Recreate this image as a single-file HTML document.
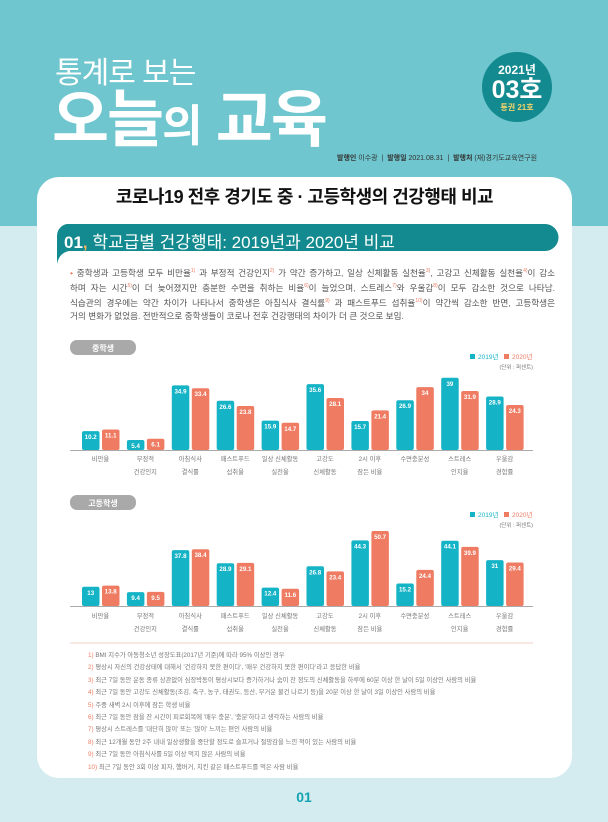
<!DOCTYPE html>
<html><head><meta charset="utf-8"><style>
*{margin:0;padding:0;box-sizing:border-box}
body{width:608px;height:822px;overflow:hidden;background:#d4ecef;font-family:"Liberation Sans","Noto Sans CJK KR",sans-serif;position:relative}
.top{position:absolute;left:0;top:0;width:608px;height:226px;background:#6fc6ce}
.abs{position:absolute}
.card{position:absolute;left:37px;top:177px;width:535px;height:601px;background:#fff;border-radius:22px}
.fn{position:absolute;left:88px;font-size:6.3px;color:#777;white-space:nowrap;line-height:8px}
.fn b{color:#ee7b62;font-weight:normal}
sup{color:#ee7b62;font-size:5px}
.t{fill:#14b3c6}.c{fill:#ee7b62}
.v{font-size:6.2px;font-weight:bold;fill:#fff;text-anchor:middle}
.l{font-size:6.3px;fill:#777;text-anchor:middle}
.p div{white-space:nowrap;text-align:justify;text-align-last:justify;height:15px}
</style></head><body>
<div class="top"></div>
<div class="abs" style="left:55px;top:48px;font-size:30px;color:#fff;letter-spacing:-1px">통계로 보는</div>
<div class="abs" style="left:52px;top:86px;font-size:62px;font-weight:bold;color:#fff;letter-spacing:-2px;line-height:70px;white-space:nowrap">오늘<span style="font-size:44px">의</span> 교육</div>
<div class="abs" style="left:482px;top:52px;width:70px;height:70px;border-radius:50%;background:#138a8f;text-align:center;color:#fff">
 <div style="font-size:12px;font-weight:bold;margin-top:9px">2021년</div>
 <div style="font-size:25px;font-weight:bold;line-height:24px">03호</div>
 <div style="font-size:8px;font-weight:bold;color:#f3d36a">통권 21호</div>
</div>
<div class="abs" style="left:337px;top:153px;font-size:7px;color:#333;white-space:nowrap"><b>발행인</b> 이수광 &nbsp;|&nbsp; <b>발행일</b> 2021.08.31 &nbsp;|&nbsp; <b>발행처</b> (재)경기도교육연구원</div>
<div class="card"></div>
<div class="abs" style="left:37px;top:183px;width:535px;text-align:center;font-size:18px;font-weight:bold;color:#111;letter-spacing:-0.5px">코로나19 전후 경기도 중 · 고등학생의 건강행태 비교</div>
<svg class="abs" style="left:55px;top:224px" width="505" height="42"><path d="M12 0H490a13 13 0 0 1 0 27H14Q4 29 2 40V12A12 12 0 0 1 12 0Z" fill="#138a8f"/></svg>
<div class="abs" style="left:64px;top:228px;font-size:17px;color:#fff;white-space:nowrap"><b>01<span style="color:#f3b35a">,</span></b> 학교급별 건강행태: 2019년과 2020년 비교</div>
<div class="abs p" style="left:70px;top:264px;width:485px;font-size:8.6px;line-height:15px;color:#555">
<div><span style="color:#ee7b62">•</span> 중학생과 고등학생 모두 비만율<sup>1)</sup> 과 부정적 건강인지<sup>2)</sup> 가 약간 증가하고, 일상 신체활동 실천율<sup>3)</sup>, 고강고 신체활동 실천율<sup>4)</sup>이 감소</div>
<div>하며 자는 시간<sup>5)</sup>이 더 늦어졌지만 충분한 수면을 취하는 비율<sup>6)</sup>이 늘었으며, 스트레스<sup>7)</sup>와 우울감<sup>8)</sup>이 모두 감소한 것으로 나타남.</div>
<div>식습관의 경우에는 약간 차이가 나타나서 중학생은 아침식사 결식률<sup>9)</sup> 과 패스트푸드 섭취율<sup>10)</sup>이 약간씩 감소한 반면, 고등학생은</div>
<div style="text-align-last:left">거의 변화가 없었음. 전반적으로 중학생들이 코로나 전후 건강행태의 차이가 더 큰 것으로 보임.</div>
</div>
<svg class="abs" style="left:0;top:0" width="608" height="822" font-family="Liberation Sans, Noto Sans CJK KR, sans-serif">
<rect x="70" y="340" width="66" height="15" rx="7" fill="#a9a9a9"/><text x="103" y="351" font-size="8" fill="#fff" text-anchor="middle" font-weight="bold">중학생</text>
<rect x="70" y="495" width="66" height="15" rx="7" fill="#a9a9a9"/><text x="103" y="506" font-size="8" fill="#fff" text-anchor="middle" font-weight="bold">고등학생</text>
<g font-size="6.5">
<rect x="470" y="354" width="5" height="5" fill="#14b3c6"/><text x="478" y="359" fill="#14b3c6">2019년</text>
<rect x="504" y="354" width="5" height="5" fill="#ee7b62"/><text x="512" y="359" fill="#ee7b62">2020년</text>
<text x="533" y="369" fill="#777" text-anchor="end" font-size="5.5">(단위 : 퍼센트)</text>
<rect x="470" y="512" width="5" height="5" fill="#14b3c6"/><text x="478" y="517" fill="#14b3c6">2019년</text>
<rect x="504" y="512" width="5" height="5" fill="#ee7b62"/><text x="512" y="517" fill="#ee7b62">2020년</text>
<text x="533" y="527" fill="#777" text-anchor="end" font-size="5.5">(단위 : 퍼센트)</text>
</g>
<g>
<rect class="t" x="82" y="431.1" width="17.5" height="18.9" rx="2"/><rect class="c" x="102" y="429.5" width="17.5" height="20.5" rx="2"/>
<rect class="t" x="126.9" y="440" width="17.5" height="10" rx="2"/><rect class="c" x="146.9" y="438.7" width="17.5" height="11.3" rx="2"/>
<rect class="t" x="171.8" y="385.4" width="17.5" height="64.6" rx="2"/><rect class="c" x="191.8" y="388.2" width="17.5" height="61.8" rx="2"/>
<rect class="t" x="216.7" y="400.8" width="17.5" height="49.2" rx="2"/><rect class="c" x="236.7" y="406" width="17.5" height="44" rx="2"/>
<rect class="t" x="261.6" y="420.6" width="17.5" height="29.4" rx="2"/><rect class="c" x="281.6" y="422.8" width="17.5" height="27.2" rx="2"/>
<rect class="t" x="306.5" y="384.1" width="17.5" height="65.9" rx="2"/><rect class="c" x="326.5" y="398" width="17.5" height="52" rx="2"/>
<rect class="t" x="351.4" y="421" width="17.5" height="29" rx="2"/><rect class="c" x="371.4" y="410.4" width="17.5" height="39.6" rx="2"/>
<rect class="t" x="396.3" y="400.2" width="17.5" height="49.8" rx="2"/><rect class="c" x="416.3" y="387.1" width="17.5" height="62.9" rx="2"/>
<rect class="t" x="441.2" y="377.8" width="17.5" height="72.2" rx="2"/><rect class="c" x="461.2" y="391" width="17.5" height="59" rx="2"/>
<rect class="t" x="486.1" y="396.5" width="17.5" height="53.5" rx="2"/><rect class="c" x="506.1" y="405" width="17.5" height="45" rx="2"/>
<text class="v" x="90.7" y="439.1">10.2</text><text class="v" x="110.7" y="437.5">11.1</text>
<text class="v" x="135.6" y="448">5.4</text><text class="v" x="155.6" y="446.7">6.1</text>
<text class="v" x="180.5" y="393.4">34.9</text><text class="v" x="200.5" y="396.2">33.4</text>
<text class="v" x="225.4" y="408.8">26.6</text><text class="v" x="245.4" y="414">23.8</text>
<text class="v" x="270.3" y="428.6">15.9</text><text class="v" x="290.3" y="430.8">14.7</text>
<text class="v" x="315.2" y="392.1">35.6</text><text class="v" x="335.2" y="406">28.1</text>
<text class="v" x="360.1" y="429">15.7</text><text class="v" x="380.1" y="418.4">21.4</text>
<text class="v" x="405" y="408.2">26.9</text><text class="v" x="425" y="395.1">34</text>
<text class="v" x="449.9" y="385.8">39</text><text class="v" x="469.9" y="399">31.9</text>
<text class="v" x="494.8" y="404.5">28.9</text><text class="v" x="514.8" y="413">24.3</text>
</g>
<line x1="70" y1="450.5" x2="533" y2="450.5" stroke="#aaa"/>
<g>
<text class="l" x="100.5" y="461">비만율</text>
<text class="l" x="145.4" y="461">부정적</text><text class="l" x="145.4" y="474">건강인지</text>
<text class="l" x="190.3" y="461">아침식사</text><text class="l" x="190.3" y="474">결식률</text>
<text class="l" x="235.2" y="461">패스트푸드</text><text class="l" x="235.2" y="474">섭취율</text>
<text class="l" x="280.1" y="461">일상 신체활동</text><text class="l" x="280.1" y="474">실천율</text>
<text class="l" x="325" y="461">고강도</text><text class="l" x="325" y="474">신체활동</text>
<text class="l" x="369.9" y="461">2시 이후</text><text class="l" x="369.9" y="474">잠든 비율</text>
<text class="l" x="414.8" y="461">수면충분성</text>
<text class="l" x="459.7" y="461">스트레스</text><text class="l" x="459.7" y="474">인지율</text>
<text class="l" x="504.6" y="461">우울감</text><text class="l" x="504.6" y="474">경험률</text>
</g>
<g>
<rect class="t" x="82" y="586.8" width="17.5" height="19.2" rx="2"/><rect class="c" x="102" y="585.6" width="17.5" height="20.4" rx="2"/>
<rect class="t" x="126.9" y="592.1" width="17.5" height="13.9" rx="2"/><rect class="c" x="146.9" y="591.9" width="17.5" height="14.1" rx="2"/>
<rect class="t" x="171.8" y="550.1" width="17.5" height="55.9" rx="2"/><rect class="c" x="191.8" y="549.2" width="17.5" height="56.8" rx="2"/>
<rect class="t" x="216.7" y="563.2" width="17.5" height="42.8" rx="2"/><rect class="c" x="236.7" y="562.9" width="17.5" height="43.1" rx="2"/>
<rect class="t" x="261.6" y="587.6" width="17.5" height="18.4" rx="2"/><rect class="c" x="281.6" y="588.8" width="17.5" height="17.2" rx="2"/>
<rect class="t" x="306.5" y="566.3" width="17.5" height="39.7" rx="2"/><rect class="c" x="326.5" y="571.4" width="17.5" height="34.6" rx="2"/>
<rect class="t" x="351.4" y="540.4" width="17.5" height="65.6" rx="2"/><rect class="c" x="371.4" y="531" width="17.5" height="75" rx="2"/>
<rect class="t" x="396.3" y="583.5" width="17.5" height="22.5" rx="2"/><rect class="c" x="416.3" y="569.9" width="17.5" height="36.1" rx="2"/>
<rect class="t" x="441.2" y="540.7" width="17.5" height="65.3" rx="2"/><rect class="c" x="461.2" y="546.9" width="17.5" height="59.1" rx="2"/>
<rect class="t" x="486.1" y="560.1" width="17.5" height="45.9" rx="2"/><rect class="c" x="506.1" y="562.5" width="17.5" height="43.5" rx="2"/>
<text class="v" x="90.7" y="594.8">13</text><text class="v" x="110.7" y="593.6">13.8</text>
<text class="v" x="135.6" y="600.1">9.4</text><text class="v" x="155.6" y="599.9">9.5</text>
<text class="v" x="180.5" y="558.1">37.8</text><text class="v" x="200.5" y="557.2">38.4</text>
<text class="v" x="225.4" y="571.2">28.9</text><text class="v" x="245.4" y="570.9">29.1</text>
<text class="v" x="270.3" y="595.6">12.4</text><text class="v" x="290.3" y="596.8">11.6</text>
<text class="v" x="315.2" y="574.3">26.8</text><text class="v" x="335.2" y="579.4">23.4</text>
<text class="v" x="360.1" y="548.4">44.3</text><text class="v" x="380.1" y="539">50.7</text>
<text class="v" x="405" y="591.5">15.2</text><text class="v" x="425" y="577.9">24.4</text>
<text class="v" x="449.9" y="548.7">44.1</text><text class="v" x="469.9" y="554.9">39.9</text>
<text class="v" x="494.8" y="568.1">31</text><text class="v" x="514.8" y="570.5">29.4</text>
</g>
<line x1="70" y1="606.5" x2="533" y2="606.5" stroke="#aaa"/>
<g>
<text class="l" x="100.5" y="618">비만율</text>
<text class="l" x="145.4" y="618">부정적</text><text class="l" x="145.4" y="631">건강인지</text>
<text class="l" x="190.3" y="618">아침식사</text><text class="l" x="190.3" y="631">결식률</text>
<text class="l" x="235.2" y="618">패스트푸드</text><text class="l" x="235.2" y="631">섭취율</text>
<text class="l" x="280.1" y="618">일상 신체활동</text><text class="l" x="280.1" y="631">실천율</text>
<text class="l" x="325" y="618">고강도</text><text class="l" x="325" y="631">신체활동</text>
<text class="l" x="369.9" y="618">2시 이후</text><text class="l" x="369.9" y="631">잠든 비율</text>
<text class="l" x="414.8" y="618">수면충분성</text>
<text class="l" x="459.7" y="618">스트레스</text><text class="l" x="459.7" y="631">인지율</text>
<text class="l" x="504.6" y="618">우울감</text><text class="l" x="504.6" y="631">경험률</text>
</g>
<line x1="70" y1="643" x2="533" y2="643" stroke="#efd0c8"/>
</svg>
<div class="fn" style="top:652px"><b>1)</b> BMI 지수가 아동청소년 성장도표(2017년 기준)에 따라 95% 이상인 경우</div>
<div class="fn" style="top:664.4px"><b>2)</b> 평상시 자신의 건강상태에 대해서 '건강하지 못한 편이다', '매우 건강하지 못한 편이다'라고 응답한 비율</div>
<div class="fn" style="top:676.8px"><b>3)</b> 최근 7일 동안 운동 종류 상관없이 심장박동이 평상시보다 증가하거나 숨이 찬 정도의 신체활동을 하루에 60분 이상 한 날이 5일 이상인 사람의 비율</div>
<div class="fn" style="top:689.2px"><b>4)</b> 최근 7일 동안 고강도 신체활동(조깅, 축구, 농구, 태권도, 등산, 무거운 물건 나르기 등)을 20분 이상 한 날이 3일 이상인 사람의 비율</div>
<div class="fn" style="top:701.6px"><b>5)</b> 주중 새벽 2시 이후에 잠든 학생 비율</div>
<div class="fn" style="top:714px"><b>6)</b> 최근 7일 동안 잠을 잔 시간이 피로회복에 '매우 충분', '충분'하다고 생각하는 사람의 비율</div>
<div class="fn" style="top:726.4px"><b>7)</b> 평상시 스트레스를 '대단히 많이' 또는 '많이' 느끼는 편인 사람의 비율</div>
<div class="fn" style="top:738.8px"><b>8)</b> 최근 12개월 동안 2주 내내 일상생활을 중단할 정도로 슬프거나 절망감을 느낀 적이 있는 사람의 비율</div>
<div class="fn" style="top:751.2px"><b>9)</b> 최근 7일 동안 아침식사를 5일 이상 먹지 않은 사람의 비율</div>
<div class="fn" style="top:763.6px"><b>10)</b> 최근 7일 동안 3회 이상 피자, 햄버거, 치킨 같은 패스트푸드를 먹은 사람 비율</div>
<div class="abs" style="left:0;top:789px;width:608px;text-align:center;font-size:14px;font-weight:bold;color:#14a3b0">01</div>
</body></html>
